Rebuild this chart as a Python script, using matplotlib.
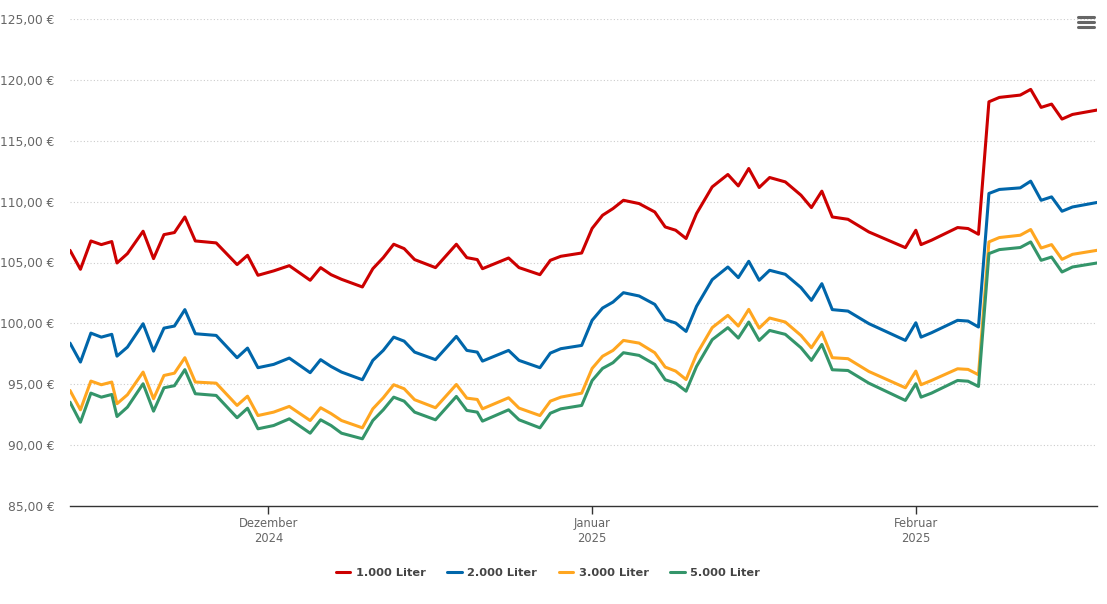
import datetime as dt
import matplotlib
matplotlib.use('Agg')
import matplotlib.pyplot as plt
import matplotlib.dates as mdates
from matplotlib.lines import Line2D
from matplotlib.ticker import FuncFormatter

# days counted from 1 December 2024
days = [-19, -18, -17, -16, -15, -14.5, -13.5, -12, -11, -10, -9, -8, -7, -5, -3, -2, -1,
        0.5, 2, 4, 5, 6, 7, 9, 10, 11, 12, 13, 14, 16, 18, 19, 20, 20.5, 23, 24, 26, 27, 28,
        30, 31, 32, 33, 34, 35.5, 37, 38, 39, 40, 41, 42.5, 44, 45, 46, 47, 48, 49.5, 51,
        52, 53, 54, 55.5, 57.5, 61, 62, 62.5, 63.5, 66, 67, 68, 69, 70, 72, 73, 74, 75,
        76, 77, 79.35]

liter_1000 = [106.00, 104.44, 106.77, 106.47, 106.72, 104.96, 105.73, 107.57, 105.32, 107.29,
              107.46, 108.74, 106.77, 106.61, 104.83, 105.59, 103.95, 104.31, 104.74, 103.54,
              104.58, 104.00, 103.62, 102.99, 104.49, 105.40, 106.50, 106.14, 105.24, 104.58,
              106.50, 105.40, 105.24, 104.49, 105.37, 104.58, 104.00, 105.18, 105.51, 105.78,
              107.80, 108.88, 109.43, 110.11, 109.84, 109.15, 107.92, 107.65, 106.97, 109.02,
              111.21, 112.23, 111.29, 112.72, 111.16, 111.98, 111.62, 110.53, 109.51, 110.86,
              108.74, 108.55, 107.51, 106.22, 107.65, 106.47, 106.83, 107.87, 107.79, 107.32,
              118.20, 118.56, 118.75, 119.22, 117.74, 118.01, 116.78, 117.16, 117.52]

liter_2000 = [98.38, 96.82, 99.20, 98.87, 99.10, 97.31, 98.05, 99.97, 97.72, 99.61,
              99.78, 101.13, 99.15, 99.01, 97.18, 97.97, 96.36, 96.63, 97.15, 95.95,
              97.02, 96.46, 96.00, 95.37, 96.96, 97.78, 98.87, 98.54, 97.64, 97.02,
              98.93, 97.78, 97.64, 96.90, 97.78, 96.96, 96.36, 97.56, 97.92, 98.19,
              100.25, 101.26, 101.75, 102.52, 102.25, 101.56, 100.30, 100.03, 99.34, 101.40,
              103.59, 104.63, 103.76, 105.10, 103.54, 104.36, 104.03, 102.94, 101.89, 103.26,
              101.13, 101.01, 99.98, 98.60, 100.05, 98.87, 99.23, 100.25, 100.19, 99.70,
              110.67, 111.00, 111.13, 111.68, 110.11, 110.39, 109.21, 109.56, 109.93]

liter_3000 = [94.49, 92.90, 95.26, 94.96, 95.18, 93.40, 94.14, 96.00, 93.81, 95.72,
              95.91, 97.18, 95.18, 95.09, 93.26, 94.02, 92.43, 92.71, 93.18, 92.02,
              93.07, 92.59, 92.02, 91.42, 92.98, 93.89, 94.96, 94.63, 93.73, 93.07,
              94.98, 93.86, 93.75, 92.98, 93.89, 93.04, 92.43, 93.61, 93.94, 94.27,
              96.30, 97.30, 97.78, 98.60, 98.38, 97.59, 96.41, 96.08, 95.39, 97.45,
              99.65, 100.66, 99.78, 101.15, 99.61, 100.44, 100.11, 99.01, 98.00, 99.28,
              97.18, 97.10, 96.05, 94.71, 96.08, 94.96, 95.31, 96.27, 96.22, 95.78,
              106.69, 107.05, 107.24, 107.71, 106.19, 106.47, 105.26, 105.67, 106.00]

liter_5000 = [93.53, 91.88, 94.27, 93.94, 94.16, 92.35, 93.12, 95.04, 92.79, 94.71,
              94.88, 96.20, 94.22, 94.08, 92.25, 93.03, 91.34, 91.61, 92.16, 90.98,
              92.08, 91.61, 90.98, 90.52, 92.02, 92.90, 93.94, 93.61, 92.71, 92.08,
              94.00, 92.85, 92.71, 91.97, 92.90, 92.08, 91.42, 92.62, 92.98, 93.26,
              95.30, 96.30, 96.77, 97.59, 97.37, 96.63, 95.37, 95.09, 94.43, 96.46,
              98.66, 99.65, 98.79, 100.11, 98.60, 99.42, 99.10, 98.00, 96.96, 98.27,
              96.19, 96.13, 95.09, 93.67, 95.04, 93.94, 94.27, 95.31, 95.25, 94.82,
              105.73, 106.06, 106.23, 106.69, 105.18, 105.45, 104.22, 104.63, 104.96]

series_names = ['1.000 Liter', '2.000 Liter', '3.000 Liter', '5.000 Liter']
series_colors = ['#cc0000', '#0066aa', '#ffa620', '#34956a']

month_ticks = ['2024-12-01', '2025-01-01', '2025-02-01']
month_labels = ['Dezember\n2024', 'Januar\n2025', 'Februar\n2025']

base = dt.datetime(2024, 12, 1)
dates = [base + dt.timedelta(days=d) for d in days]

fig = plt.figure(figsize=(11.07, 6.04), dpi=100)
ax = fig.add_axes([70 / 1107, 1 - 506 / 604, 1027 / 1107, 487 / 604])

for vals, name, col in zip([liter_1000, liter_2000, liter_3000, liter_5000], series_names, series_colors):
    ax.plot(dates, vals, color=col, lw=2.2, label=name, solid_joinstyle='round', solid_capstyle='round')

ax.set_xlim(dates[0], dates[-1])
ax.set_ylim(85, 125)
ax.set_yticks(range(85, 126, 5))
ax.yaxis.set_major_formatter(FuncFormatter(lambda v, p: f'{v:.2f} €'.replace('.', ',')))
ax.set_xticks([mdates.date2num(dt.datetime.fromisoformat(t)) for t in month_ticks])
ax.set_xticklabels(month_labels, linespacing=1.2)

for s in ['top', 'right', 'left']:
    ax.spines[s].set_visible(False)
ax.spines['bottom'].set_color('#333333')
ax.spines['bottom'].set_linewidth(1)
ax.tick_params(axis='y', length=0, pad=11, labelsize=8.8, labelcolor='#666666')
ax.tick_params(axis='x', length=6, width=1, color='#333333', pad=2, labelsize=8.3, labelcolor='#666666')

ax.yaxis.grid(True, linestyle=(0, (1, 2)), color='#cccccc', lw=0.8)
ax.set_axisbelow(True)
ax.get_ygridlines()[0].set_visible(False)

# menu icon top right
for yy in [16.5, 21.5, 26.5]:
    fig.add_artist(Line2D([1078 / 1107, 1094 / 1107], [1 - yy / 604] * 2, color='#666666', lw=2.2,
                          solid_capstyle='round'))

leg = fig.legend(loc='center', bbox_to_anchor=(0.495, 1 - 573 / 604), ncol=4, frameon=False,
                 handlelength=1.25, handletextpad=0.5, columnspacing=1.9,
                 prop={'size': 8.2, 'weight': 'bold'})
for t in leg.get_texts():
    t.set_color('#444444')

fig.savefig('out.png', dpi=100)
